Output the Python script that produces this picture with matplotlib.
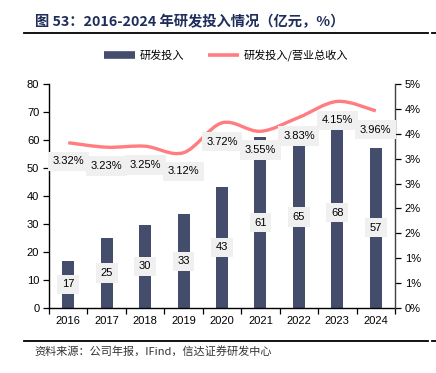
import matplotlib
matplotlib.use("Agg")
import matplotlib.pyplot as plt
from matplotlib.path import Path
from matplotlib.patches import PathPatch
from matplotlib.lines import Line2D
import numpy as np

years = ["2016", "2017", "2018", "2019", "2020", "2021", "2022", "2023", "2024"]
rd_spend = [16.8, 24.9, 29.8, 33.4, 43.3, 61.0, 65.0, 68.0, 57.3]
rd_ratio = [3.32, 3.23, 3.25, 3.12, 3.72, 3.55, 3.83, 4.15, 3.96]
left_ticks = [0, 10, 20, 30, 40, 50, 60, 70, 80]
right_ticks = [0, 0.5, 1.0, 1.5, 2.0, 2.5, 3.0, 3.5, 4.0, 4.5]
right_labels = ["0%", "1%", "1%", "2%", "2%", "3%", "3%", "4%", "4%", "5%"]

CJK = ["Noto Sans CJK SC", "DejaVu Sans"]
LAT = ["Liberation Sans", "Noto Sans CJK SC", "DejaVu Sans"]
plt.rcParams["font.family"] = LAT

W, H = 436, 373
fig = plt.figure(figsize=(W / 100, H / 100), dpi=100)
ax = fig.add_axes([49 / W, 1 - 308 / H, (395 - 49) / W, (308 - 84) / H])
ax2 = ax.twinx()

bar_color = "#454D6D"
line_color = "#FF7C80"
box_color = "#F0F0F0"
FS = 8.0

x = np.arange(len(years))
ax.bar(x, rd_spend, width=0.31, color=bar_color, zorder=2)
ax.set_xlim(-0.5, len(years) - 0.5)
ax.set_ylim(0, 80)
ax.set_yticks(left_ticks)
ax.set_yticklabels([str(v) for v in left_ticks])
ax.set_xticks(x)
ax.set_xticklabels(years)
ax.set_xticks(np.arange(-0.5, len(years)), minor=True)
ax.tick_params(axis="x", which="major", length=0, labelsize=FS, pad=6, colors="#000000")
ax.tick_params(axis="x", which="minor", length=4, width=0.9, direction="out")
ax.tick_params(axis="y", length=4, width=0.9, labelsize=FS, pad=3)
for s in ["top", "right"]:
    ax.spines[s].set_visible(False)
ax.spines["left"].set_linewidth(1.0)
ax.spines["bottom"].set_linewidth(1.0)

for xi, v in zip(x, rd_spend):
    ax.text(xi, v / 2, f"{v:.0f}", ha="center", va="center", fontsize=FS, zorder=5,
            bbox=dict(boxstyle="square,pad=0.42", fc=box_color, ec="none"))

# smoothed line (Catmull-Rom style Bezier as in Excel)
pts = np.column_stack([x, rd_ratio]).astype(float)
verts = [tuple(pts[0])]
codes = [Path.MOVETO]
n = len(pts)
for i in range(n - 1):
    p0 = pts[i - 1] if i > 0 else pts[i]
    p1 = pts[i]
    p2 = pts[i + 1]
    p3 = pts[i + 2] if i + 2 < n else pts[i + 1]
    c1 = p1 + (p2 - p0) / 6.0
    c2 = p2 - (p3 - p1) / 6.0
    verts += [tuple(c1), tuple(c2), tuple(p2)]
    codes += [Path.CURVE4] * 3
ax2.add_patch(PathPatch(Path(verts, codes), fill=False, ec=line_color, lw=2.4,
                        capstyle="butt", joinstyle="round", zorder=3))
ax2.set_ylim(0, 4.5)
ax2.set_yticks(right_ticks)
ax2.set_yticklabels(right_labels)
ax2.tick_params(axis="y", length=4, width=0.9, labelsize=FS, pad=3, colors="#000000")
ax2.spines["right"].set_color("#404040")
ax2.spines["right"].set_linewidth(1.0)
for s in ["top", "left", "bottom"]:
    ax2.spines[s].set_visible(False)

for xi, v in zip(x, rd_ratio):
    ax2.annotate(f"{v:.2f}%", (xi, v), xytext=(0, -13.5), textcoords="offset points",
                 ha="center", va="center", fontsize=FS, zorder=6,
                 bbox=dict(boxstyle="square,pad=0.42", fc=box_color, ec="none"))

# title and rules
fig.text(35 / W, 1 - 22 / H, "图 53：2016-2024 年研发投入情况（亿元，%）", family=["Noto Sans CJK SC", "DejaVu Sans"],
         fontsize=10.3, fontweight="bold", color="#1F2D5C", ha="left", va="center")
fig.add_artist(Line2D([24 / W, 428 / W], [1 - 32.5 / H, 1 - 32.5 / H], color="black", lw=1.3))
fig.add_artist(Line2D([432 / W, 436 / W], [1 - 32.5 / H, 1 - 32.5 / H], color="black", lw=1.3))
fig.add_artist(Line2D([24 / W, 428 / W], [1 - 340.5 / H, 1 - 340.5 / H], color="black", lw=1.3))
fig.add_artist(Line2D([432 / W, 436 / W], [1 - 340.5 / H, 1 - 340.5 / H], color="black", lw=1.3))
fig.text(34 / W, 1 - 351 / H, "资料来源：公司年报，IFind，信达证券研发中心", family=CJK,
         fontsize=8.0, style="italic", color="#333333", ha="left", va="center")

# legend
handles = [Line2D([], [], color=bar_color, lw=5.5, solid_capstyle="butt"),
           Line2D([], [], color=line_color, lw=2.6, solid_capstyle="butt")]
leg = fig.legend(handles, ["研发投入", "研发投入/营业总收入"], loc="center",
                 bbox_to_anchor=(226 / W, 1 - 55 / H), ncol=2, frameon=False,
                 prop={"family": CJK, "size": 8.0}, handlelength=2.8,
                 handletextpad=0.4, columnspacing=2.2)

fig.savefig("out.png", dpi=100)
